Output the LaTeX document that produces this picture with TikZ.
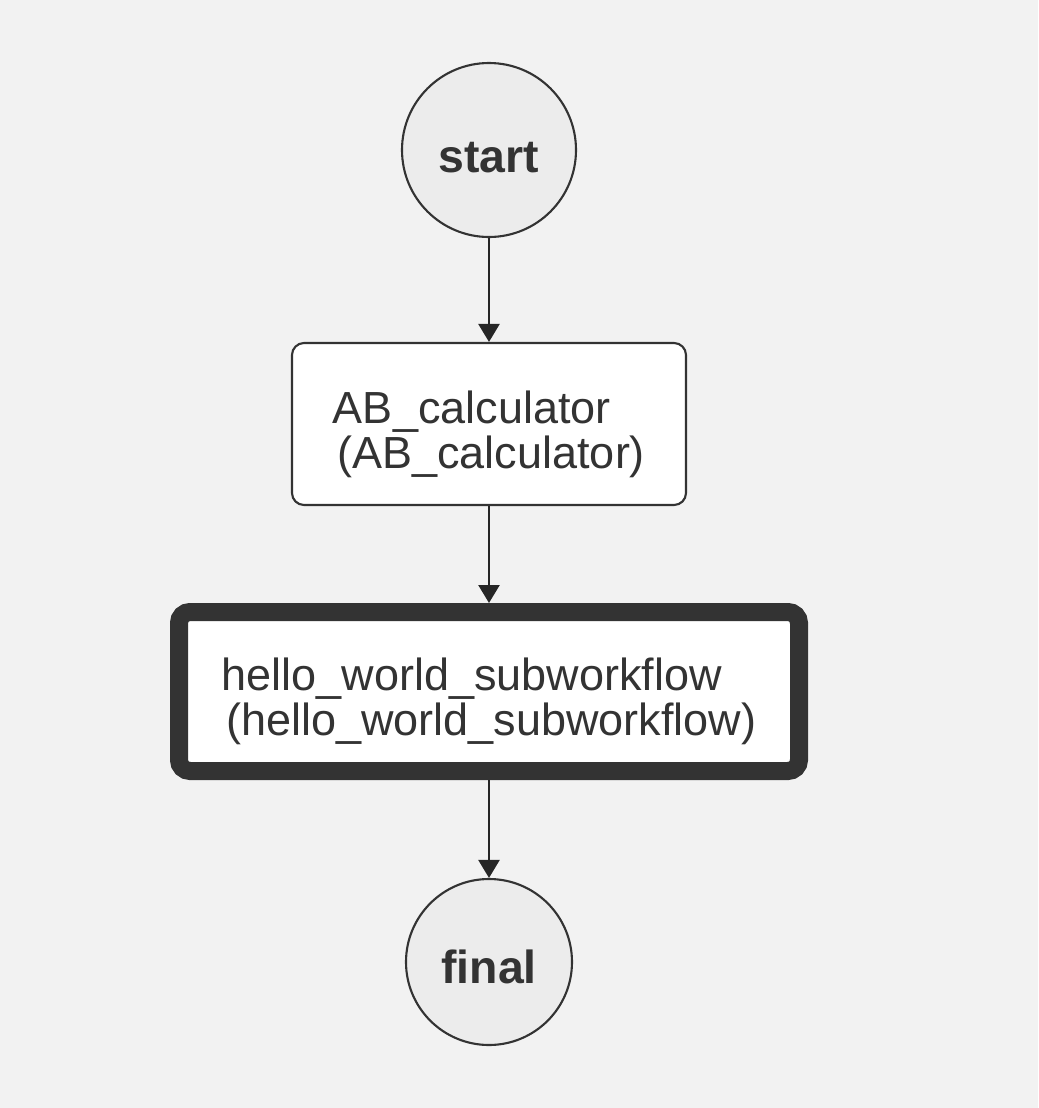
\documentclass[tikz,border=0pt]{standalone}
\usepackage{fontspec}
\setmainfont{Liberation Sans}
\usepackage{tikz}
\usetikzlibrary{arrows.meta}
\tikzset{>={Triangle[width=2.1mm, length=1.8mm]}}
\definecolor{bgcol}{HTML}{F2F2F2}
\definecolor{ink}{HTML}{333333}
\definecolor{circfill}{HTML}{ECECEC}
\tikzset{
    endpoint/.style={circle, draw=ink, fill=circfill, line width=.6pt, text=ink,
        font=\fontsize{13.2}{15}\selectfont\bfseries, inner sep=0pt, text depth=0pt},
    task/.style={rectangle, rounded corners=1.2mm, draw=ink, fill=white, line width=.6pt,
        text=ink, align=left, font=\fontsize{12.8}{12.8}\selectfont,
        text height=.98cm, text depth=.1cm,
        minimum width=3.94cm, minimum height=1.62cm},
    subflow/.style={task, line width=1.8mm, rounded corners=1.1mm,
        minimum width=6.2cm, minimum height=1.59cm},
    flow/.style={->, line width=.7pt, draw=black!85},
}

\begin{document}
\begin{tikzpicture}
    \fill[bgcol](0, 0)rectangle(10.38, -11.08);
    \useasboundingbox(0, 0)rectangle(10.38, -11.08);
    \node[endpoint, minimum size=1.74cm, text height=.44cm](start)at(4.89, -1.50){start};
    \node[task](ab)at(4.89, -4.24){AB\_calculator\\\hspace*{.1em}(AB\_calculator)};
    \node[subflow](hello)at(4.89, -6.915){hello\_world\_subworkflow\\\hspace*{.1em}(hello\_world\_subworkflow)};
    \node[endpoint, minimum size=1.66cm, text height=.42cm](final)at(4.89, -9.62){final};
    \draw[flow](start)--(ab);
    \draw[flow](ab)--(hello);
    \draw[flow](hello)--(final);
\end{tikzpicture}
\end{document}
